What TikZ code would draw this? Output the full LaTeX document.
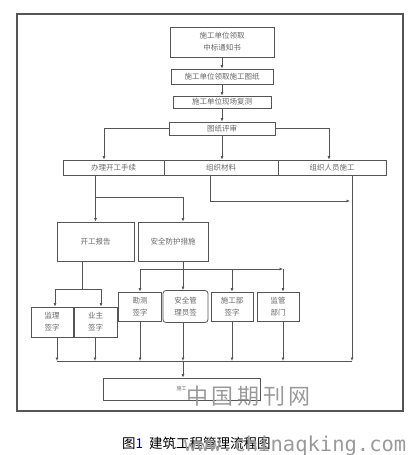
\documentclass[tikz,border=0pt]{standalone}
\usepackage{fontspec}
\setmainfont{Noto Sans CJK SC}
\newfontfamily\wmfont{Noto Sans CJK SC}
\newfontfamily\monofont{DejaVu Sans Mono}
\usetikzlibrary{arrows.meta,calc}
\definecolor{linec}{HTML}{555555}
\definecolor{textc}{HTML}{666666}
\definecolor{wmc}{HTML}{9A9A9A}
\tikzset{
  box/.style={draw=linec, line width=0.8pt, rectangle, inner sep=0pt, align=center,
    font=\fontsize{7.5}{12}\selectfont, text=textc},
  rbox/.style={box, rounded corners=3pt},
  conn/.style={draw=linec, line width=0.7pt},
  arr/.style={conn, -{Latex[length=3.5pt,width=3pt]}},
}
\begin{document}
\begin{tikzpicture}[x=1pt,y=-1pt]
\useasboundingbox (0,0) rectangle (415,455);
\draw[draw=linec, line width=1.2pt] (17,14) rectangle (403,411);

% top chain
\node[box, minimum width=104pt, minimum height=30pt] (b1) at (222,42) {施工单位领取\\中标通知书};
\node[box, minimum width=102pt, minimum height=15pt] (b2) at (222,76.5) {施工单位领取施工图纸};
\node[box, minimum width=98pt, minimum height=12pt] (b3) at (222,102) {施工单位现场复测};
\node[box, minimum width=106pt, minimum height=13pt] (b4) at (222,128.5) {图纸评审};

% row
\node[box, minimum width=101pt, minimum height=15pt] (b5) at (113.5,167.5) {办理开工手续};
\node[box, minimum width=114pt, minimum height=15pt] (b6) at (221,167.5) {组织材料};
\node[box, minimum width=108pt, minimum height=15pt] (b7) at (332,167.5) {组织人员施工};

% second level
\node[box, minimum width=77pt, minimum height=39pt] (b8) at (95.5,241.5) {开工报告};
\node[box, minimum width=70pt, minimum height=39pt] (b9) at (173,241.5) {安全防护措施};

% signatures
\node[box, minimum width=42pt, minimum height=30pt] (b10) at (52,322) {监理\\签字};
\node[box, minimum width=43pt, minimum height=30pt] (b11) at (95.5,322) {业主\\签字};
\node[box, minimum width=43pt, minimum height=29pt] (b12) at (140,306.5) {勘测\\签字};
\node[rbox, minimum width=45pt, minimum height=32pt] (b13) at (185.5,306.5) {安全管\\理员签};
\node[box, minimum width=42pt, minimum height=29pt] (b14) at (232,306.5) {施工部\\签字};
\node[box, minimum width=42pt, minimum height=29pt] (b15) at (278,306.5) {监管\\部门};

% final
\node[box, minimum width=157pt, minimum height=22pt, font=\fontsize{5}{6}\selectfont] (b16) at (181.5,389) {施工};

% coordinates
\coordinate (j1) at (95.5,197);
\coordinate (j2) at (183,197);
\coordinate (j3) at (350,201);
\coordinate (k1) at (55,289);
\coordinate (k2) at (101,289);
\coordinate (m1) at (140,269);
\coordinate (m2) at (283,269);
\coordinate (bl) at (57,361);
\coordinate (br) at (352,361);
\coordinate (bc) at (183,361);

% top chain arrows
\draw[arr] (b1) -- (b2);
\draw[arr] (b2) -- (b3);
\draw[arr] (b3) -- (b4);
\draw[arr] (b4.west) -| ([xshift=-9.5pt]b5.north);
\draw[arr] (b4.south) -- (b4.south |- b6.north);
\draw[arr] (b4.east) -| ([xshift=-3pt]b7.north);

% from 办理开工手续
\draw[conn] ([xshift=-18pt]b5.south) -- (j1);
\draw[arr] (j1) -- (b8.north);
\draw[arr] (j1) -- (j2) -- (j2 |- b9.north);

% from 组织材料 / 组织人员施工
\draw[arr] ([xshift=-11pt]b6.south) |- (j3);
\draw[arr] ([xshift=20pt]b7.south) -- (br);

% from 开工报告
\draw[conn] ([xshift=-13.5pt]b8.south) -- ([xshift=-13.5pt]b8.south |- k1);
\draw[conn] (k1) -- (k2);
\draw[arr] (k1) -- (k1 |- b10.north);
\draw[arr] (k2) -- (k2 |- b11.north);

% from 安全防护措施
\draw[arr] (j2 |- b9.south) -- (j2 |- b13.north);
\draw[arr] (m1) -- (m2);
\draw[arr] (m1) -- (b12.north);
\draw[arr] (m2) -- (m2 |- b15.north);
\draw[arr] (b14.north |- m1) -- (b14.north);

% to bottom bus
\draw[conn] (bl) -- (br);
\draw[arr] (bl |- b10.south) -- (bl);
\draw[arr] ([xshift=-0.5pt]b11.south) -- ([xshift=-0.5pt]b11.south |- bl);
\draw[arr] (b12.south) -- (b12.south |- bl);
\draw[arr] (bc |- b13.south) -- (bc);
\draw[arr] (b14.south) -- (b14.south |- bl);
\draw[arr] (m2 |- b15.south) -- (m2 |- bl);
\draw[arr] (bc) -- (b16.north -| bc);

% watermark and caption
\node[text=wmc, font=\wmfont\fontsize{22}{22}\selectfont, anchor=west, inner sep=0pt] (wm1) at (186,396) {中\,国\,期\,刊\,网};
\node[text=black, font=\fontsize{13.5}{14}\selectfont, anchor=west, inner sep=0pt] (cap) at (122,443) {图\textcolor{blue!60!black}{1}\hspace{6pt}建筑工程管理流程图};
\node[text=wmc, font=\monofont\fontsize{20.5}{21}\selectfont, anchor=west, inner sep=0pt] (wm2) at (184,446) {www.chinaqking.com};
\end{tikzpicture}
\end{document}
